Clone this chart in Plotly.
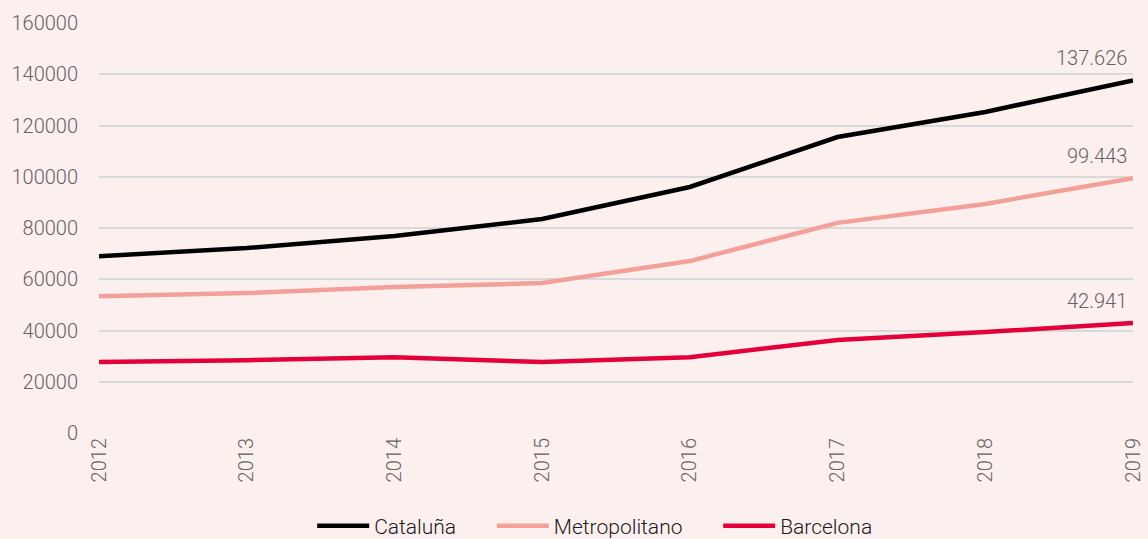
import plotly.graph_objects as go

years = [2012, 2013, 2014, 2015, 2016, 2017, 2018, 2019]
cataluna = [69000, 72200, 76900, 83500, 96000, 115500, 125300, 137626]
metropolitano = [53400, 54600, 57000, 58500, 67100, 82000, 89400, 99443]
barcelona = [27700, 28400, 29600, 27700, 29600, 36300, 39400, 42941]
labels = ["137.626", "99.443", "42.941"]

names = ["Cataluña", "Metropolitano", "Barcelona"]
colors = ["#000000", "#f4a09a", "#e4003a"]
series = [cataluna, metropolitano, barcelona]

FONT = "Roboto"
bg = "#fcf0ef"
TICK = dict(family=FONT, size=20, color="#636363", weight=300)
PAD = "\u00a0" * 6

fig = go.Figure()
for i, (n, c, s) in enumerate(zip(names, colors, series)):
    label = n + (PAD if i < len(names) - 1 else "")
    fig.add_trace(go.Scatter(x=years, y=s, mode="lines", name=label,
                             hovertemplate=n + ": %{y}<extra></extra>",
                             line=dict(color=c, width=4.5)))

for s, lab in zip(series, labels):
    fig.add_annotation(x=years[-1], y=s[-1], text=lab, showarrow=False,
                       xanchor="right", yanchor="bottom", xshift=-4, yshift=8,
                       font=TICK)

fig.update_layout(
    width=1148, height=539,
    paper_bgcolor=bg, plot_bgcolor=bg,
    margin=dict(l=99, r=15, t=23, b=106, autoexpand=False),
    font=TICK,
    showlegend=True,
    legend=dict(orientation="h", xref="container", x=0.518, xanchor="center",
                yref="container", y=0.024, yanchor="middle",
                font=dict(family=FONT, size=21, color="#1a1a1a", weight=300),
                itemwidth=52, bgcolor="rgba(0,0,0,0)"),
    xaxis=dict(range=[2012, 2019], tickmode="array", tickvals=years,
               ticktext=[str(y) for y in years], tickangle=-90, automargin=False,
               showgrid=False, zeroline=False, showline=False, ticks="",
               tickfont=TICK),
    yaxis=dict(range=[0, 160000], dtick=20000, tickformat="d", automargin=False,
               showgrid=True, gridcolor="#d9d9d9", gridwidth=1.5,
               zeroline=False, showline=False, ticks="outside", ticklen=16,
               tickcolor="rgba(0,0,0,0)",
               tickfont=TICK),
)

fig.write_html("out.html", config={"displayModeBar": False},
               post_script="document.body.style.margin='0';document.body.style.padding='0';document.body.style.overflow='hidden';document.body.style.background='%s';" % bg)
